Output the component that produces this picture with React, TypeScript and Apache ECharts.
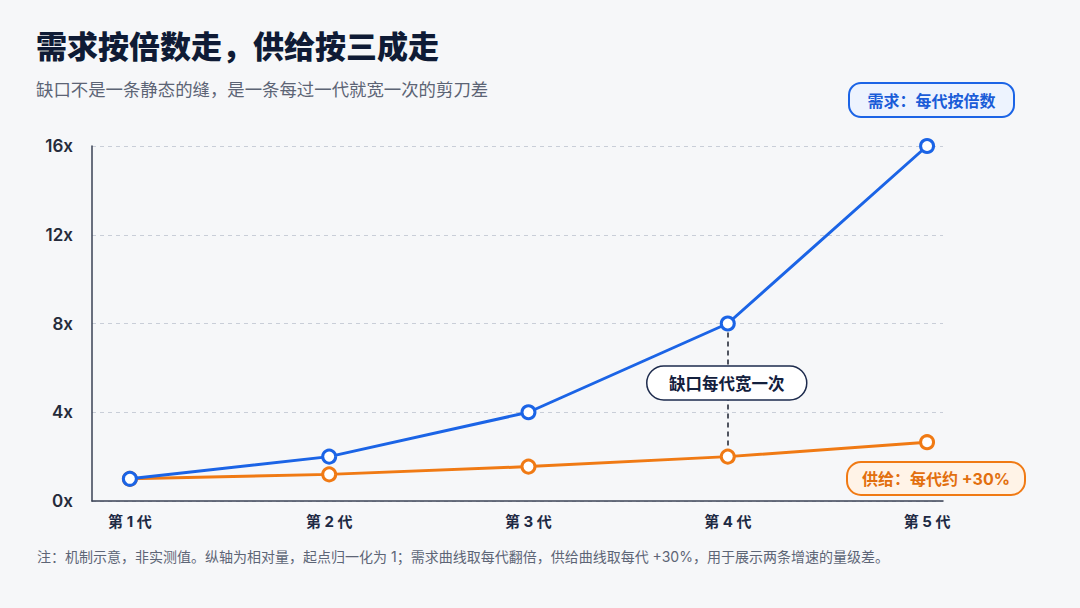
import React, { useEffect, useRef } from "react";
import * as echarts from "echarts";

const categories = ["第 1 代", "第 2 代", "第 3 代", "第 4 代", "第 5 代"];
const demand = [1, 2, 4, 8, 16];
const supply = [1, 1.2, 1.55, 2.0, 2.65];
const yTicks = [0, 4, 8, 12, 16];
const gapIndex = 3;

const title = "需求按倍数走，供给按三成走";
const subtitle = "缺口不是一条静态的缝，是一条每过一代就宽一次的剪刀差";
const demandLabel = "需求：每代按倍数";
const supplyLabel = "供给：每代约 +30%";
const gapLabel = "缺口每代宽一次";
const footnote =
  "注：机制示意，非实测值。纵轴为相对量，起点归一化为 1；需求曲线取每代翻倍，供给曲线取每代 +30%，用于展示两条增速的量级差。";

const BLUE = "#1b64e6";
const ORANGE = "#f07a14";
const NAVY = "#13203d";
const FONT = "Inter, 'Noto Sans CJK SC', sans-serif";

export default function App() {
  const ref = useRef<HTMLDivElement>(null);

  useEffect(() => {
    document.body.style.margin = "0";
    const chart = echarts.init(ref.current!, null, { renderer: "svg" });

    const xs = categories.map((_, i) => i + 1);
    const demandData = xs.map((x, i) => [x, demand[i]]);
    const supplyData = xs.map((x, i) => [x, supply[i]]);

    const baseText = (
      text: string,
      x: number,
      y: number,
      size: number,
      color: string,
      weight: string | number,
      align = "left"
    ) => ({
      type: "text",
      x,
      y,
      z: 100,
      style: {
        text,
        fontSize: size,
        fontWeight: weight,
        fontFamily: FONT,
        fill: color,
        align,
        verticalAlign: "middle",
      },
    });

    chart.setOption({
      animation: false,
      backgroundColor: "#f6f7f9",
      grid: { left: 92, right: 137, top: 146, bottom: 107 },
      xAxis: {
        type: "value",
        min: 0.81,
        max: 5.08,
        axisLine: { show: true, lineStyle: { color: "#3a4254", width: 1.5 } },
        axisTick: { show: false },
        splitLine: { show: false },
        axisLabel: {
          customValues: xs,
          formatter: (v: number) => categories[Math.round(v) - 1] ?? "",
          color: "#1e2a44",
          fontSize: 15,
          fontWeight: 700,
          fontFamily: FONT,
          margin: 13,
        },
      },
      yAxis: {
        type: "value",
        min: yTicks[0],
        max: yTicks[yTicks.length - 1],
        interval: yTicks[1] - yTicks[0],
        axisLine: { show: true, lineStyle: { color: "#3a4254", width: 1.5 } },
        axisTick: { show: false },
        splitLine: {
          show: true,
          lineStyle: { color: "#c9ced8", type: [4, 4], width: 1 },
        },
        axisLabel: {
          formatter: (v: number) => `${v}x`,
          color: "#252b3b",
          fontSize: 17,
          fontWeight: 600,
          fontFamily: FONT,
          margin: 19,
        },
      },
      series: [
        {
          name: "供给",
          type: "line",
          data: supplyData,
          z: 3,
          symbol: "circle",
          symbolSize: 13,
          lineStyle: { color: ORANGE, width: 3 },
          itemStyle: { color: "#ffffff", borderColor: ORANGE, borderWidth: 3 },
        },
        {
          name: "需求",
          type: "line",
          data: demandData,
          z: 4,
          symbol: "circle",
          symbolSize: 13,
          lineStyle: { color: BLUE, width: 3 },
          itemStyle: { color: "#ffffff", borderColor: BLUE, borderWidth: 3 },
          markLine: {
            silent: true,
            z: 1,
            symbol: "none",
            label: { show: false },
            lineStyle: { color: "#1a1f2e", type: [5, 4], width: 1.5 },
            data: [
              [
                { coord: [gapIndex + 1, demand[gapIndex]] },
                { coord: [gapIndex + 1, supply[gapIndex]] },
              ],
            ],
          },
        },
      ],
    });

    const [gx] = chart.convertToPixel({ xAxisIndex: 0, yAxisIndex: 0 }, [
      gapIndex + 1,
      0,
    ]) as number[];

    chart.setOption({
      graphic: [
        { id: "t", ...baseText(title, 36, 46, 31, "#0f1b35", 800) },
        { id: "s", ...baseText(subtitle, 36, 89, 17.4, "#5c6475", 400) },
        { id: "f", ...baseText(footnote, 37, 556, 14, "#5d6576", 400) },
        {
          id: "dbox",
          type: "rect",
          z: 99,
          shape: { x: 849, y: 83, width: 165, height: 34, r: 12 },
          style: { fill: "#edf3fe", stroke: BLUE, lineWidth: 2 },
        },
        { id: "dtxt", ...baseText(demandLabel, 931.5, 100.5, 16, "#1a5cd8", 700, "center") },
        {
          id: "sbox",
          type: "rect",
          z: 99,
          shape: { x: 847, y: 462, width: 178, height: 33, r: 14 },
          style: { fill: "#fff3e7", stroke: ORANGE, lineWidth: 2 },
        },
        { id: "stxt", ...baseText(supplyLabel, 936, 479, 16, "#e26f0e", 700, "center") },
        {
          id: "gbox",
          type: "rect",
          z: 99,
          shape: { x: gx - 81, y: 366, width: 160, height: 34, r: 17 },
          style: { fill: "#ffffff", stroke: "#1d2b4d", lineWidth: 1.5 },
        },
        { id: "gtxt", ...baseText(gapLabel, gx - 1, 383.5, 16.5, NAVY, 700, "center") },
      ],
    });

    return () => chart.dispose();
  }, []);

  return (
    <div
      ref={ref}
      style={{ position: "fixed", left: 0, top: 0, width: 1080, height: 608 }}
    />
  );
}
